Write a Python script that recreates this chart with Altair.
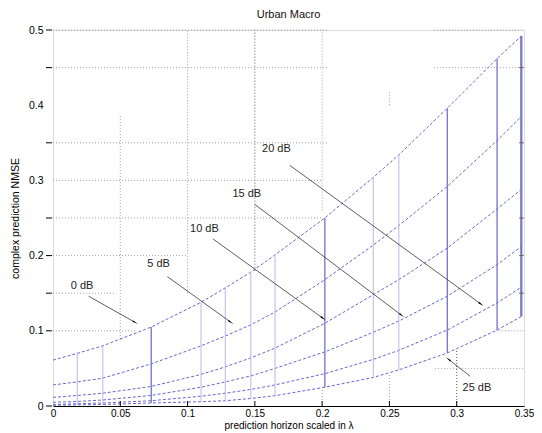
import math
import altair as alt
import pandas as pd

# ---------------- data ----------------
x_pts = [0, 0.018, 0.037, 0.073, 0.110, 0.128, 0.147, 0.165, 0.202, 0.238, 0.257, 0.293, 0.330, 0.348]
snr_names = ["0 dB", "5 dB", "10 dB", "15 dB", "20 dB", "25 dB"]
nmse_0dB = [0.061, 0.070, 0.080, 0.105, 0.138, 0.157, 0.178, 0.201, 0.250, 0.304, 0.334, 0.396, 0.462, 0.492]
nmse_5dB = [0.028, 0.032, 0.037, 0.056, 0.080, 0.093, 0.108, 0.125, 0.168, 0.214, 0.240, 0.292, 0.353, 0.385]
nmse_10dB = [0.0115, 0.014, 0.017, 0.026, 0.042, 0.052, 0.064, 0.077, 0.110, 0.148, 0.168, 0.210, 0.262, 0.288]
nmse_15dB = [0.005, 0.006, 0.008, 0.014, 0.025, 0.032, 0.040, 0.050, 0.072, 0.098, 0.113, 0.146, 0.188, 0.212]
nmse_20dB = [0.002, 0.003, 0.004, 0.007, 0.013, 0.017, 0.022, 0.028, 0.043, 0.062, 0.074, 0.101, 0.137, 0.158]
nmse_25dB = [0.001, 0.0015, 0.002, 0.004, 0.0057, 0.007, 0.010, 0.0137, 0.025, 0.038, 0.048, 0.0705, 0.101, 0.119]
curves = [nmse_0dB, nmse_5dB, nmse_10dB, nmse_15dB, nmse_20dB, nmse_25dB]

# vertical connectors (at every horizon except 0)
stem_shade = ["light", "light", "dark", "light", "light", "light", "light",
              "dark", "light", "light", "dark", "dark", "bold"]

# annotations: label position, arrow tail, arrow head
ann_text = ["0 dB", "5 dB", "10 dB", "15 dB", "20 dB", "25 dB"]
ann_lx = [0.0216, 0.0785, 0.1125, 0.144, 0.166, 0.315]
ann_ly = [0.160, 0.189, 0.236, 0.282, 0.342, 0.0235]
arr_tx = [0.0265, 0.085, 0.119, 0.150, 0.176, 0.310]
arr_ty = [0.146, 0.172, 0.222, 0.268, 0.320, 0.0395]
arr_hx = [0.0632, 0.134, 0.2027, 0.261, 0.320, 0.292]
arr_hy = [0.109, 0.109, 0.114, 0.118, 0.133, 0.0648]

x_ticks = [0, 0.05, 0.1, 0.15, 0.2, 0.25, 0.3, 0.35]
y_ticks = [0, 0.05, 0.1, 0.15, 0.2, 0.25, 0.3, 0.35, 0.4, 0.45, 0.5]

# visible pieces of the dotted grid in the reference
hgrid_y = [0.5, 0.5, 0.45, 0.45, 0.35, 0.3, 0.25, 0.2, 0.15, 0.1, 0.1, 0.05]
hgrid_x1 = [0, 0.283, 0, 0.283, 0, 0, 0, 0, 0, 0, 0.329, 0.284]
hgrid_x2 = [0.204, 0.35, 0.204, 0.35, 0.204, 0.2, 0.2, 0.1, 0.047, 0.062, 0.35, 0.35]
vgrid_x = [0.05, 0.1, 0.1, 0.15, 0.2, 0.2, 0.25, 0.25, 0.3]
vgrid_y1 = [0.089, 0.15, 0, 0.18, 0.26, 0, 0.40, 0, 0]
vgrid_y2 = [0.386, 0.5, 0.008, 0.5, 0.5, 0.022, 0.42, 0.043, 0.074]
vgrid_dark = [False, False, False, True, False, False, False, False, True]

# tick marks visible in the reference
left_ticks = [0, 0.1, 0.15, 0.2, 0.25, 0.35, 0.45, 0.5]
right_ticks = [0.15, 0.2, 0.25, 0.35, 0.45]
bottom_ticks = [0.05, 0.1, 0.15, 0.2, 0.25, 0.3]

# ---------------- tables ----------------
W, H = 471, 376
XMAX, YMAX = 0.35, 0.5
pxx, pxy = W / XMAX, H / YMAX

curve_df = pd.DataFrame(
    [{"x": x, "y": v, "snr": name} for name, vals in zip(snr_names, curves) for x, v in zip(x_pts, vals)]
)
stem_df = pd.DataFrame({
    "x": x_pts[1:], "lo": nmse_25dB[1:], "hi": nmse_0dB[1:], "shade": stem_shade,
})
arr_rows = []
for tx, ty, hx, hy in zip(arr_tx, arr_ty, arr_hx, arr_hy):
    dxp = (hx - tx) * pxx
    dyp = -(hy - ty) * pxy
    ln = math.hypot(dxp, dyp)
    ang = math.degrees(math.atan2(dxp, -dyp)) % 360
    back = 4.0
    cx = hx - dxp / ln * back / pxx
    cy = hy + dyp / ln * back / pxy
    arr_rows.append({"tx": tx, "ty": ty, "hx": cx, "hy": cy, "ang": ang})
arr_df = pd.DataFrame(arr_rows)
lab_df = pd.DataFrame({"t": ann_text, "x": ann_lx, "y": ann_ly})
hg_df = pd.DataFrame({"y": hgrid_y, "x1": hgrid_x1, "x2": hgrid_x2})
vg_df = pd.DataFrame({"x": vgrid_x, "y1": vgrid_y1, "y2": vgrid_y2, "dark": vgrid_dark})
lt_df = pd.DataFrame({"y": left_ticks})
rt_df = pd.DataFrame({"y": right_ticks})
bt_df = pd.DataFrame({"x": bottom_ticks})

FONT = "Liberation Sans"
xs = alt.Scale(domain=[0, XMAX], nice=False, zero=False)
ys = alt.Scale(domain=[0, YMAX], nice=False, zero=False)

x_axis = alt.Axis(values=x_ticks, format="~g", title="prediction horizon scaled in λ",
                  grid=False, ticks=False, domain=True, domainColor="#000", domainWidth=1,
                  labelPadding=2, titlePadding=2, labelFlush=False, labelOverlap=False,
                  labelFontSize=10, titleFontWeight="normal", titleFont=FONT, titleFontSize=10)
y_axis = alt.Axis(values=y_ticks, format="~g", title="complex prediction NMSE",
                  grid=False, ticks=False, domain=False,
                  labelPadding=10, titlePadding=8, labelFlush=False, labelOverlap=False,
                  labelFontSize=10.5, titleFontWeight="normal", titleFont=FONT, titleFontSize=10.5)

hgrid = alt.Chart(hg_df).mark_rule(strokeDash=[1, 2], color="#8a8a8a", strokeWidth=0.8).encode(
    x=alt.X("x1:Q", scale=xs), x2="x2:Q", y=alt.Y("y:Q", scale=ys)
)
vgrid_n = alt.Chart(vg_df[~vg_df["dark"]]).mark_rule(strokeDash=[1, 2], color="#8a8a8a", strokeWidth=0.8).encode(
    x=alt.X("x:Q", scale=xs), y=alt.Y("y1:Q", scale=ys), y2="y2:Q"
)
vgrid_d = alt.Chart(vg_df[vg_df["dark"]]).mark_rule(strokeDash=[1, 2], color="#333333", strokeWidth=0.8).encode(
    x=alt.X("x:Q", scale=xs), y=alt.Y("y1:Q", scale=ys), y2="y2:Q"
)

lines = alt.Chart(curve_df).mark_line(strokeDash=[3, 2], strokeWidth=1, color="#6868d0").encode(
    x=alt.X("x:Q", scale=xs, axis=x_axis),
    y=alt.Y("y:Q", scale=ys, axis=y_axis),
    detail="snr:N",
)

stem_style = {"light": ("#b8b8e8", 1.0), "dark": ("#7272cc", 1.3), "bold": ("#7373c9", 2.2)}
stem_layers = []
for shade, (col, sw) in stem_style.items():
    stem_layers.append(
        alt.Chart(stem_df[stem_df["shade"] == shade]).mark_rule(color=col, strokeWidth=sw).encode(
            x=alt.X("x:Q", scale=xs), y=alt.Y("lo:Q", scale=ys), y2="hi:Q"
        )
    )

bticks = alt.Chart(bt_df).mark_rule(color="#000", strokeWidth=1).encode(
    x=alt.X("x:Q", scale=xs), y=alt.value(H), y2=alt.value(H - 5)
)
lticks = alt.Chart(lt_df).mark_rule(color="#000", strokeWidth=1).encode(
    y=alt.Y("y:Q", scale=ys), x=alt.value(-7), x2=alt.value(-1)
)
rticks = alt.Chart(rt_df).mark_rule(color="#555", strokeWidth=0.8).encode(
    y=alt.Y("y:Q", scale=ys), x=alt.value(W), x2=alt.value(W - 5)
)

arrows = alt.Chart(arr_df).mark_rule(color="#333", strokeWidth=0.8).encode(
    x=alt.X("tx:Q", scale=xs), y=alt.Y("ty:Q", scale=ys), x2="hx:Q", y2="hy:Q"
)
heads = alt.Chart(arr_df).mark_point(shape="wedge", filled=True, color="#000", size=45, opacity=1).encode(
    x=alt.X("hx:Q", scale=xs), y=alt.Y("hy:Q", scale=ys), angle=alt.Angle("ang:Q", scale=None)
)
labels = alt.Chart(lab_df).mark_text(font=FONT, fontSize=11, color="#222", align="center", baseline="middle").encode(
    x=alt.X("x:Q", scale=xs), y=alt.Y("y:Q", scale=ys), text="t:N"
)

chart = alt.layer(hgrid, vgrid_n, vgrid_d, lines, *stem_layers, bticks, lticks, rticks,
                  arrows, heads, labels).properties(
    width=W, height=H,
    title=alt.TitleParams("Urban Macro", font=FONT, fontSize=11, fontWeight="normal", color="#111", offset=5),
    padding={"left": 45, "top": 22, "right": 10, "bottom": 27},
    autosize=alt.AutoSizeParams(type="none"),
).configure_view(stroke=None).configure_axis(
    labelFont=FONT, labelColor="#222",
    titleFont=FONT, titleFontWeight="normal", titleColor="#222",
).configure(background="#ffffff")

chart.save("out.html", embed_options={"renderer": "svg", "actions": False})
